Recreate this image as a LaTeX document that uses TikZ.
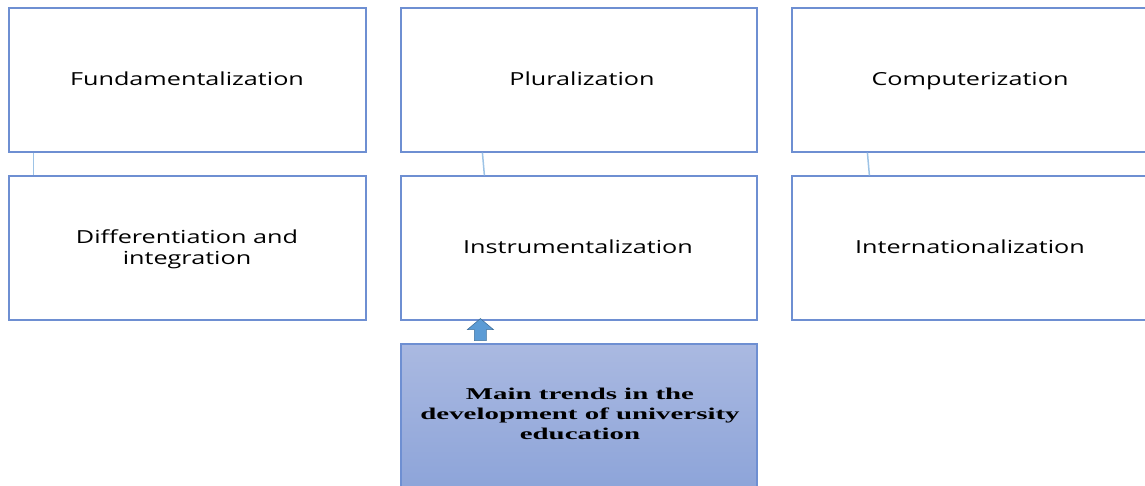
\documentclass[tikz,border=0pt]{standalone}
\usepackage{fontspec}
\setmainfont{Open Sans}[FakeStretch=1.4]
\newfontfamily\serifbold{Liberation Serif}[FakeStretch=1.75]
\usetikzlibrary{calc}
\definecolor{boxline}{HTML}{6E8FD2}
\definecolor{linkline}{HTML}{9DC3E6}
\definecolor{topfill}{HTML}{AAB9E1}
\definecolor{botfill}{HTML}{8AA2D8}
\definecolor{arrfill}{HTML}{5B9BD5}
\definecolor{arrline}{HTML}{41719C}
\begin{document}
\begin{tikzpicture}[x=1pt,y=-1pt,
  trendbox/.style={draw=boxline,line width=1.2pt,fill=white,inner sep=0pt},
  mainbox/.style={draw=boxline,line width=1.2pt,top color=topfill,bottom color=botfill,inner sep=0pt},
  label/.style={font=\fontsize{18}{21}\selectfont,align=center,inner sep=0pt,text height=13pt,text depth=4pt},
  mainlabel/.style={font=\serifbold\bfseries\fontsize{16.5}{20}\selectfont,align=center,inner sep=0pt},
  link/.style={draw=linkline,line width=1.5pt}]
\useasboundingbox (0,0) rectangle (1145,486);
\clip (0,0) rectangle (1145,486);
\node[trendbox,minimum width=357pt,minimum height=144pt] (fund) at (187.5,80) {};
\node[label] at (187,81) {Fundamentalization};
\node[trendbox,minimum width=356pt,minimum height=144pt] (plur) at (579,80) {};
\node[label] at (582,81) {Pluralization};
\node[trendbox,minimum width=370pt,minimum height=144pt] (comp) at (977,80) {};
\node[label] at (970,81) {Computerization};
\node[trendbox,minimum width=357pt,minimum height=144pt] (diff) at (187.5,248) {};
\node[label,text height=,text depth=] at (187,249) {Differentiation and\\integration};
\node[trendbox,minimum width=356pt,minimum height=144pt] (inst) at (579,248) {};
\node[label] at (578,249) {Instrumentalization};
\node[trendbox,minimum width=370pt,minimum height=144pt] (intl) at (977,248) {};
\node[label] at (970,249) {Internationalization};
\node[mainbox,minimum width=356pt,minimum height=160pt] (main) at (579,424) {};
\node[mainlabel] at (580,414) {Main trends in the\\development of university\\education};
% connectors
\draw[link] ($(fund.south west)+(25,0)$) -- ($(diff.north west)+(25,0)$);
\draw[link] ($(plur.south west)+(82,0)$) -- ($(inst.north west)+(84,0)$);
\draw[link] ($(comp.south west)+(76,0)$) -- ($(intl.north west)+(78,0)$);
% block arrow from main box up to instrumentalization box
\coordinate (tip) at ($(inst.south west)+(80,-2)$);
\draw[draw=arrline,fill=arrfill,line width=0.6pt]
  (tip) -- ++(13,11) -- ++(-7,0) -- ++(0,11) -- ++(-12,0) -- ++(0,-11) -- ++(-7,0) -- cycle;
\end{tikzpicture}
\end{document}
